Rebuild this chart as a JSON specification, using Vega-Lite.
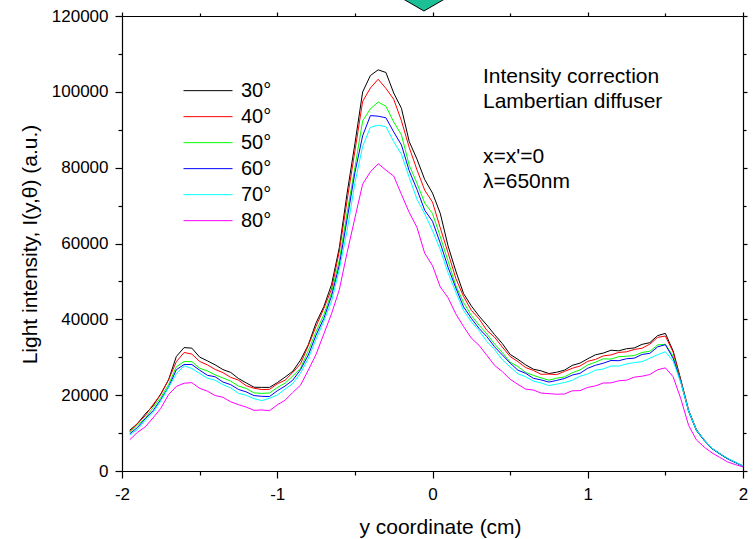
{
  "$schema": "https://vega.github.io/schema/vega-lite/v6.json",
  "width": 621,
  "height": 455,
  "autosize": "none",
  "padding": {"left": 122, "top": 16, "right": 10, "bottom": 68},
  "background": "white",
  "config": {
    "font": "Liberation Sans",
    "view": {"stroke": null},
    "axis": {
      "grid": false,
      "domainColor": "black",
      "domainWidth": 1.2,
      "tickColor": "black",
      "tickWidth": 1.2,
      "labelColor": "black",
      "titleColor": "black",
      "labelFont": "Liberation Sans",
      "titleFont": "Liberation Sans",
      "labelFontSize": 17,
      "titleFontSize": 21,
      "titleFontWeight": "normal",
      "labelOverlap": false,
      "labelFlush": false
    }
  },
  "datasets": {
    "curves": [
      {"x": -1.95, "30°": 10750, "40°": 10360, "50°": 10150, "60°": 9810, "70°": 9460, "80°": 8250},
      {"x": -1.9, "30°": 12500, "40°": 12600, "50°": 12180, "60°": 11490, "70°": 11000, "80°": 10200},
      {"x": -1.85, "30°": 15050, "40°": 14590, "50°": 13870, "60°": 13820, "70°": 13380, "80°": 11650},
      {"x": -1.8, "30°": 17200, "40°": 17530, "50°": 16750, "60°": 15900, "70°": 15460, "80°": 14000},
      {"x": -1.75, "30°": 20350, "40°": 20180, "50°": 19430, "60°": 18880, "70°": 18480, "80°": 16550},
      {"x": -1.7, "30°": 24050, "40°": 24090, "50°": 22790, "60°": 22150, "70°": 22040, "80°": 20150},
      {"x": -1.65, "30°": 30200, "40°": 28830, "50°": 27510, "60°": 26710, "70°": 25670, "80°": 22300},
      {"x": -1.6, "30°": 32550, "40°": 31260, "50°": 28870, "60°": 28090, "70°": 27740, "80°": 23150},
      {"x": -1.55, "30°": 32400, "40°": 30830, "50°": 28850, "60°": 28080, "70°": 27040, "80°": 23300},
      {"x": -1.5, "30°": 30050, "40°": 28890, "50°": 27080, "60°": 26590, "70°": 25730, "80°": 21800},
      {"x": -1.45, "30°": 29050, "40°": 27990, "50°": 26390, "60°": 25250, "70°": 24480, "80°": 21050},
      {"x": -1.4, "30°": 28000, "40°": 26790, "50°": 25340, "60°": 24850, "70°": 23930, "80°": 19900},
      {"x": -1.35, "30°": 26750, "40°": 25950, "50°": 24540, "60°": 23470, "70°": 22770, "80°": 19450},
      {"x": -1.3, "30°": 26000, "40°": 24700, "50°": 23700, "60°": 22780, "70°": 21930, "80°": 18250},
      {"x": -1.25, "30°": 24400, "40°": 23970, "50°": 22410, "60°": 21510, "70°": 20490, "80°": 17500},
      {"x": -1.2, "30°": 23250, "40°": 22500, "50°": 21760, "60°": 20870, "70°": 19970, "80°": 16850},
      {"x": -1.15, "30°": 22100, "40°": 21840, "50°": 20610, "60°": 19890, "70°": 19080, "80°": 16000},
      {"x": -1.1, "30°": 22050, "40°": 21470, "50°": 20480, "60°": 19700, "70°": 18560, "80°": 16100},
      {"x": -1.05, "30°": 22050, "40°": 21520, "50°": 20570, "60°": 19630, "70°": 19180, "80°": 15900},
      {"x": -1.0, "30°": 23300, "40°": 22990, "50°": 22010, "60°": 21150, "70°": 20030, "80°": 17450},
      {"x": -0.95, "30°": 24750, "40°": 23940, "50°": 23160, "60°": 22400, "70°": 21580, "80°": 18650},
      {"x": -0.9, "30°": 26300, "40°": 25980, "50°": 25030, "60°": 23950, "70°": 23070, "80°": 20700},
      {"x": -0.85, "30°": 29250, "40°": 28280, "50°": 27110, "60°": 26740, "70°": 25850, "80°": 22650},
      {"x": -0.8, "30°": 33300, "40°": 33070, "50°": 31760, "60°": 30600, "70°": 29670, "80°": 26600},
      {"x": -0.75, "30°": 39050, "40°": 38150, "50°": 36760, "60°": 35850, "70°": 34780, "80°": 30750},
      {"x": -0.7, "30°": 43350, "40°": 42850, "50°": 41250, "60°": 40230, "70°": 39530, "80°": 36150},
      {"x": -0.65, "30°": 49200, "40°": 48000, "50°": 47030, "60°": 46180, "70°": 44780, "80°": 41500},
      {"x": -0.6, "30°": 58950, "40°": 58050, "50°": 55600, "60°": 54330, "70°": 53200, "80°": 47850},
      {"x": -0.55, "30°": 73300, "40°": 71400, "50°": 68190, "60°": 66420, "70°": 63440, "80°": 57600},
      {"x": -0.5, "30°": 86250, "40°": 84350, "50°": 80000, "60°": 78650, "70°": 75950, "80°": 66700},
      {"x": -0.45, "30°": 99950, "40°": 97460, "50°": 92330, "60°": 88400, "70°": 85610, "80°": 75650},
      {"x": -0.4, "30°": 104300, "40°": 101010, "50°": 95520, "60°": 93730, "70°": 90640, "80°": 78900},
      {"x": -0.35, "30°": 105800, "40°": 103320, "50°": 97310, "60°": 93580, "70°": 91200, "80°": 81050},
      {"x": -0.3, "30°": 105100, "40°": 100900, "50°": 96200, "60°": 93150, "70°": 90800, "80°": 79350},
      {"x": -0.25, "30°": 99700, "40°": 98050, "50°": 92050, "60°": 89430, "70°": 86880, "80°": 77800},
      {"x": -0.2, "30°": 95650, "40°": 92360, "50°": 88660, "60°": 85980, "70°": 83530, "80°": 72950},
      {"x": -0.15, "30°": 86900, "40°": 85330, "50°": 80630, "60°": 79180, "70°": 77430, "80°": 68200},
      {"x": -0.1, "30°": 82250, "40°": 79430, "50°": 75890, "60°": 74240, "70°": 71690, "80°": 64250},
      {"x": -0.05, "30°": 76850, "40°": 74040, "50°": 70660, "60°": 68760, "70°": 67800, "80°": 57400},
      {"x": 0.0, "30°": 73300, "40°": 70900, "50°": 67900, "60°": 65850, "70°": 63390, "80°": 54150},
      {"x": 0.05, "30°": 67950, "40°": 64130, "50°": 61800, "60°": 60100, "70°": 58400, "80°": 48550},
      {"x": 0.1, "30°": 59400, "40°": 57590, "50°": 55400, "60°": 53750, "70°": 52300, "80°": 45700},
      {"x": 0.15, "30°": 52750, "40°": 50810, "50°": 48950, "60°": 48300, "70°": 47140, "80°": 41450},
      {"x": 0.2, "30°": 46800, "40°": 46030, "50°": 44450, "60°": 43300, "70°": 42360, "80°": 38100},
      {"x": 0.25, "30°": 43550, "40°": 42380, "50°": 41040, "60°": 40270, "70°": 39340, "80°": 35050},
      {"x": 0.3, "30°": 40850, "40°": 40140, "50°": 38450, "60°": 37600, "70°": 36990, "80°": 33150},
      {"x": 0.35, "30°": 38500, "40°": 37110, "50°": 36160, "60°": 35430, "70°": 34140, "80°": 30500},
      {"x": 0.4, "30°": 35950, "40°": 35270, "50°": 33500, "60°": 32750, "70°": 32010, "80°": 27850},
      {"x": 0.45, "30°": 33600, "40°": 32680, "50°": 31230, "60°": 30600, "70°": 29330, "80°": 26200},
      {"x": 0.5, "30°": 30750, "40°": 30180, "50°": 28720, "60°": 28470, "70°": 27430, "80°": 24200},
      {"x": 0.55, "30°": 29450, "40°": 28850, "50°": 27540, "60°": 26600, "70°": 25640, "80°": 22850},
      {"x": 0.6, "30°": 28000, "40°": 27280, "50°": 25970, "60°": 25770, "70°": 24850, "80°": 21600},
      {"x": 0.65, "30°": 26850, "40°": 26520, "50°": 25210, "60°": 24440, "70°": 23710, "80°": 21350},
      {"x": 0.7, "30°": 26400, "40°": 25500, "50°": 24560, "60°": 24010, "70°": 23220, "80°": 20550},
      {"x": 0.75, "30°": 25700, "40°": 25560, "50°": 23940, "60°": 23450, "70°": 22530, "80°": 20400},
      {"x": 0.8, "30°": 26050, "40°": 25420, "50°": 24480, "60°": 23900, "70°": 22910, "80°": 20250},
      {"x": 0.85, "30°": 26600, "40°": 26260, "50°": 24810, "60°": 24380, "70°": 23340, "80°": 20300},
      {"x": 0.9, "30°": 27850, "40°": 27080, "50°": 25910, "60°": 25290, "70°": 23900, "80°": 21150},
      {"x": 0.95, "30°": 28450, "40°": 27690, "50°": 26650, "60°": 25770, "70°": 25010, "80°": 21200},
      {"x": 1.0, "30°": 29600, "40°": 28930, "50°": 27980, "60°": 27100, "70°": 25580, "80°": 22050},
      {"x": 1.05, "30°": 30650, "40°": 29430, "50°": 28710, "60°": 27890, "70°": 26600, "80°": 22450},
      {"x": 1.1, "30°": 31100, "40°": 30350, "50°": 29580, "60°": 28430, "70°": 26900, "80°": 23200},
      {"x": 1.15, "30°": 31850, "40°": 30620, "50°": 29520, "60°": 29140, "70°": 27700, "80°": 23250},
      {"x": 1.2, "30°": 31700, "40°": 31280, "50°": 30160, "60°": 29090, "70°": 27670, "80°": 23800},
      {"x": 1.25, "30°": 32250, "40°": 31430, "50°": 30280, "60°": 29610, "70°": 28220, "80°": 23950},
      {"x": 1.3, "30°": 32450, "40°": 32060, "50°": 30450, "60°": 29760, "70°": 28590, "80°": 24750},
      {"x": 1.35, "30°": 33400, "40°": 32380, "50°": 31270, "60°": 30740, "70°": 28840, "80°": 25000},
      {"x": 1.4, "30°": 33850, "40°": 33470, "50°": 31560, "60°": 31030, "70°": 29750, "80°": 25450},
      {"x": 1.45, "30°": 35700, "40°": 35240, "50°": 33250, "60°": 32740, "70°": 30670, "80°": 26700},
      {"x": 1.5, "30°": 36300, "40°": 35600, "50°": 33420, "60°": 33320, "70°": 31440, "80°": 27200},
      {"x": 1.55, "30°": 31650, "40°": 31370, "50°": 30280, "60°": 29730, "70°": 29000, "80°": 24850},
      {"x": 1.6, "30°": 24000, "40°": 23750, "50°": 23400, "60°": 23400, "70°": 23250, "80°": 19000},
      {"x": 1.65, "30°": 16000, "40°": 15880, "50°": 15680, "60°": 15680, "70°": 15800, "80°": 12000},
      {"x": 1.7, "30°": 10900, "40°": 10820, "50°": 10680, "60°": 10680, "70°": 10820, "80°": 8200},
      {"x": 1.75, "30°": 8200, "40°": 8140, "50°": 8050, "60°": 8050, "70°": 8200, "80°": 6300},
      {"x": 1.8, "30°": 6000, "40°": 5960, "50°": 5900, "60°": 5900, "70°": 6000, "80°": 4800},
      {"x": 1.85, "30°": 4600, "40°": 4570, "50°": 4520, "60°": 4520, "70°": 4620, "80°": 3600},
      {"x": 1.9, "30°": 3300, "40°": 3270, "50°": 3230, "60°": 3230, "70°": 3350, "80°": 2400},
      {"x": 1.95, "30°": 2300, "40°": 2280, "50°": 2250, "60°": 2250, "70°": 2330, "80°": 1700},
      {"x": 2.0, "30°": 1300, "40°": 1290, "50°": 1280, "60°": 1280, "70°": 1310, "80°": 1100}
    ],
    "notes": [
      {"x": 0.325, "y": 102330, "t": "Intensity correction"},
      {"x": 0.325, "y": 95736, "t": "Lambertian diffuser"},
      {"x": 0.325, "y": 81231, "t": "x=x'=0"},
      {"x": 0.325, "y": 74637, "t": "λ=650nm"}
    ],
    "arrow": [
      {"x": -0.055, "y": 121319}
    ]
  },
  "layer": [
    {
      "data": {"name": "curves"},
      "transform": [
        {"fold": ["30°", "40°", "50°", "60°", "70°", "80°"], "as": ["angle", "value"]}
      ],
      "mark": {"type": "line", "strokeWidth": 1},
      "encoding": {
        "x": {
          "field": "x",
          "type": "quantitative",
          "scale": {"domain": [-2, 2], "nice": false, "zero": false},
          "axis": {
            "orient": "bottom",
            "values": [-2, -1.5, -1, -0.5, 0, 0.5, 1, 1.5, 2],
            "labelExpr": "datum.value % 1 === 0 ? '' + datum.value : ''",
            "tickSize": {"condition": {"test": "datum.value % 1 === 0", "value": 7}, "value": 4},
            "labelPadding": 8,
            "title": "y coordinate (cm)",
            "titleBaseline": "alphabetic",
            "titleY": 62,
            "titleX": 318
          }
        },
        "y": {
          "field": "value",
          "type": "quantitative",
          "scale": {"domain": [0, 120000], "nice": false, "zero": false},
          "axis": {
            "orient": "left",
            "values": [0, 10000, 20000, 30000, 40000, 50000, 60000, 70000, 80000, 90000, 100000, 110000, 120000],
            "labelExpr": "datum.value % 20000 === 0 ? '' + datum.value : ''",
            "tickSize": {"condition": {"test": "datum.value % 20000 === 0", "value": 7}, "value": 4},
            "labelPadding": 7,
            "title": "Light intensity, I(y,θ) (a.u.)",
            "titleBaseline": "alphabetic",
            "titleAngle": -90,
            "titleAlign": "center",
            "titleX": -86,
            "titleY": 228
          }
        },
        "color": {
          "field": "angle",
          "type": "nominal",
          "scale": {
            "domain": ["30°", "40°", "50°", "60°", "70°", "80°"],
            "range": ["#000000", "#ff0000", "#00ff00", "#0000ff", "#00ffff", "#ff00ff"]
          },
          "legend": {
            "orient": "none",
            "legendX": 61,
            "legendY": 62,
            "title": null,
            "padding": 0,
            "symbolType": "stroke",
            "symbolSize": 2401,
            "symbolStrokeWidth": 1,
            "clipHeight": 25.3,
            "rowPadding": 0,
            "labelOffset": 8,
            "labelFont": "Liberation Sans",
            "labelFontSize": 20,
            "labelColor": "black"
          }
        }
      }
    },
    {
      "data": {"name": "notes"},
      "mark": {"type": "text", "align": "left", "baseline": "alphabetic", "fontSize": 21, "font": "Liberation Sans", "color": "black"},
      "encoding": {
        "x": {
          "field": "x",
          "type": "quantitative",
          "scale": {"domain": [-2, 2], "nice": false, "zero": false},
          "axis": {
            "orient": "top",
            "values": [-2, -1.5, -1, -0.5, 0, 0.5, 1, 1.5, 2],
            "labels": false,
            "title": null,
            "tickSize": {"condition": {"test": "datum.value % 1 === 0", "value": 4}, "value": 3}
          }
        },
        "y": {
          "field": "y",
          "type": "quantitative",
          "scale": {"domain": [0, 120000], "nice": false, "zero": false},
          "axis": {
            "orient": "right",
            "values": [0, 10000, 20000, 30000, 40000, 50000, 60000, 70000, 80000, 90000, 100000, 110000, 120000],
            "labels": false,
            "title": null,
            "tickSize": {"condition": {"test": "datum.value % 20000 === 0", "value": 4}, "value": 3}
          }
        },
        "text": {"field": "t", "type": "nominal"}
      }
    },
    {
      "data": {"name": "arrow"},
      "mark": {
        "type": "point",
        "shape": "M-1,-0.58L1,-0.58L0,0Z",
        "size": 3600,
        "filled": true,
        "fill": "#1DC096",
        "fillOpacity": 1,
        "stroke": "#000000",
        "strokeOpacity": 1,
        "strokeWidth": 1
      },
      "encoding": {
        "x": {"field": "x", "type": "quantitative", "axis": null},
        "y": {"field": "y", "type": "quantitative", "axis": null}
      }
    }
  ],
  "resolve": {"axis": {"x": "independent", "y": "independent"}}
}
